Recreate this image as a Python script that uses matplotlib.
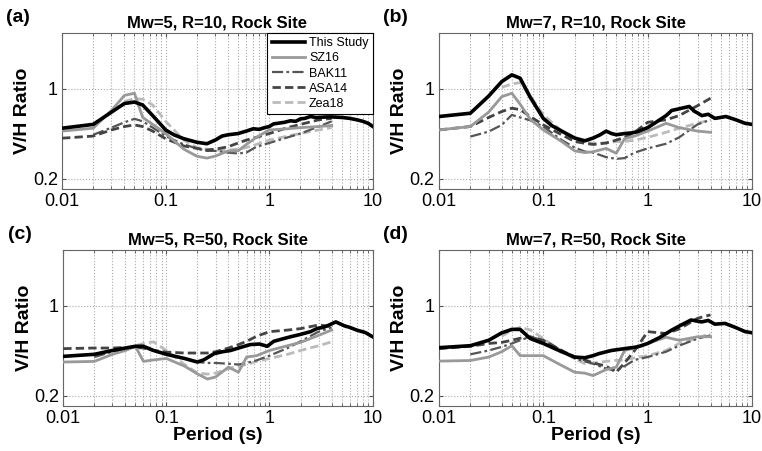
import numpy as np
import matplotlib
matplotlib.use('Agg')
import matplotlib.pyplot as plt
from matplotlib.ticker import FixedLocator, FixedFormatter, LogLocator, NullFormatter

plt.rcParams['font.family'] = ['Liberation Sans', 'DejaVu Sans']

# common periods for the published models (s)
periods = [0.01, 0.02, 0.03, 0.04, 0.05, 0.06, 0.075, 0.1, 0.15, 0.2, 0.25,
           0.3, 0.4, 0.5, 0.6, 0.75, 1, 1.5, 2, 3, 4]

titles = ['Mw=5, R=10, Rock Site', 'Mw=7, R=10, Rock Site',
          'Mw=5, R=50, Rock Site', 'Mw=7, R=50, Rock Site']
panel_tags = ['(a)', '(b)', '(c)', '(d)']
labels = ['This Study', 'SZ16', 'BAK11', 'ASA14', 'Zea18']

# ---- panel (a) ----
a_study_T = [0.01, 0.02, 0.03, 0.04, 0.05, 0.06, 0.075, 0.1, 0.12, 0.15, 0.2, 0.25,
             0.3, 0.35, 0.4, 0.5, 0.6, 0.7, 0.8, 0.9, 1.0, 1.1, 1.2, 1.4, 1.6, 1.8,
             2.0, 2.2, 2.5, 2.8, 3.0, 3.5, 4, 5, 6, 7, 8, 9, 10]
a_study_V = [0.495, 0.53, 0.66, 0.77, 0.79, 0.75, 0.62, 0.48, 0.44, 0.41, 0.385, 0.375,
             0.40, 0.43, 0.44, 0.45, 0.47, 0.49, 0.485, 0.50, 0.51, 0.535, 0.54, 0.55, 0.565, 0.56,
             0.585, 0.59, 0.61, 0.60, 0.60, 0.605, 0.606, 0.60, 0.59, 0.575, 0.56, 0.54, 0.51]
a_sz16 = [0.47, 0.495, 0.68, 0.89, 0.925, 0.60, 0.53, 0.45, 0.34, 0.30, 0.29, 0.30,
          0.33, 0.33, 0.37, 0.42, 0.48, 0.49, 0.50, 0.51, 0.52]
a_bak11 = [0.44, 0.50, 0.55, 0.585, 0.56, 0.50, 0.43, 0.37, 0.345, 0.33, 0.33, 0.32,
           0.315, 0.32, 0.355, 0.38, 0.42, 0.45, 0.51, 0.56]
a_asa14 = [0.414, 0.43, 0.48, 0.51, 0.525, 0.51, 0.47, 0.41, 0.36, 0.345, 0.335, 0.34,
           0.355, 0.38, 0.40, 0.42, 0.45, 0.50, 0.53, 0.575, 0.59]
a_zea18 = [0.80, 0.84, 0.83, 0.75, 0.56, 0.40, 0.35, 0.34, 0.335, 0.335, 0.34, 0.35,
           0.37, 0.40, 0.43, 0.45, 0.48, 0.50]

# ---- panel (b) ----
b_study_T = [0.01, 0.02, 0.03, 0.04, 0.05, 0.06, 0.075, 0.1, 0.12, 0.15, 0.2, 0.25,
             0.3, 0.35, 0.4, 0.45, 0.5, 0.6, 0.7, 0.8, 1.0, 1.2, 1.5, 1.7, 2.0, 2.5,
             2.8, 3.0, 3.3, 3.8, 4.4, 5.0, 5.6, 7.0, 8.6, 10]
b_study_V = [0.61, 0.647, 0.88, 1.14, 1.285, 1.21, 0.86, 0.59, 0.52, 0.47, 0.415, 0.395,
             0.415, 0.44, 0.47, 0.45, 0.44, 0.45, 0.455, 0.465, 0.50, 0.55, 0.62, 0.68, 0.70, 0.73,
             0.67, 0.65, 0.62, 0.635, 0.59, 0.60, 0.61, 0.575, 0.54, 0.53]
b_sz16 = [0.48, 0.51, 0.66, 0.87, 0.925, 0.76, 0.58, 0.48, 0.39, 0.33, 0.32, 0.325,
          0.345, 0.316, 0.41, 0.43, 0.47, 0.54, 0.50, 0.47, 0.46]
b_bak11 = [0.426, 0.466, 0.525, 0.628, 0.60, 0.57, 0.51, 0.40, 0.35, 0.326, 0.32, 0.295,
           0.286, 0.29, 0.32, 0.345, 0.375, 0.42, 0.53, 0.575]
b_asa14 = [0.48, 0.51, 0.60, 0.667, 0.708, 0.69, 0.61, 0.525, 0.44, 0.39, 0.378, 0.37,
           0.38, 0.40, 0.42, 0.46, 0.55, 0.575, 0.62, 0.74, 0.846]
b_zea18 = [1.03, 1.09, 1.12, 0.88, 0.63, 0.47, 0.40, 0.385, 0.378, 0.38, 0.39, 0.39,
           0.40, 0.42, 0.46, 0.495, 0.54, 0.575]

# ---- panel (c) ----
c_study_T = [0.01, 0.02, 0.03, 0.04, 0.05, 0.06, 0.075, 0.1, 0.15, 0.2, 0.23, 0.29,
             0.35, 0.42, 0.5, 0.65, 0.8, 0.95, 1.1, 1.3, 1.6, 2.0, 2.5, 2.9, 3.3,
             3.65, 4.4, 5.3, 6.0, 7.0, 8.5, 10]
c_study_V = [0.405, 0.42, 0.45, 0.47, 0.485, 0.485, 0.45, 0.42, 0.39, 0.366, 0.38, 0.425,
             0.44, 0.45, 0.47, 0.50, 0.505, 0.485, 0.53, 0.55, 0.575, 0.60, 0.63, 0.667, 0.68,
             0.70, 0.75, 0.70, 0.68, 0.648, 0.62, 0.575]
c_sz16 = [0.366, 0.37, 0.42, 0.45, 0.485, 0.37, 0.38, 0.39, 0.34, 0.296, 0.27, 0.28,
          0.334, 0.305, 0.40, 0.41, 0.45, 0.49, 0.52, 0.59, 0.648]
c_bak11 = [0.40, 0.44, 0.46, 0.48, 0.47, 0.45, 0.42, 0.39, 0.366, 0.36, 0.36, 0.355,
           0.35, 0.36, 0.377, 0.41, 0.47, 0.53, 0.63, 0.68]
c_asa14 = [0.465, 0.47, 0.47, 0.475, 0.475, 0.47, 0.45, 0.437, 0.43, 0.43, 0.43, 0.44,
           0.47, 0.50, 0.53, 0.58, 0.63, 0.648, 0.665, 0.71, 0.69]
c_zea18 = [0.45, 0.49, 0.51, 0.525, 0.45, 0.35, 0.30, 0.295, 0.30, 0.325, 0.34, 0.35,
           0.37, 0.39, 0.42, 0.45, 0.49, 0.525]

# ---- panel (d) ----
d_study_T = [0.01, 0.02, 0.03, 0.04, 0.05, 0.06, 0.075, 0.1, 0.15, 0.2, 0.25, 0.3,
             0.34, 0.45, 0.6, 0.8, 1.0, 1.3, 1.7, 2.1, 2.6, 3.0, 3.3, 3.8, 4.4, 5.5,
             6.9, 8.6, 10]
d_study_V = [0.473, 0.49, 0.54, 0.617, 0.656, 0.656, 0.557, 0.51, 0.44, 0.40, 0.395, 0.41,
             0.425, 0.45, 0.465, 0.48, 0.51, 0.567, 0.648, 0.71, 0.776, 0.76, 0.75, 0.77, 0.72, 0.73,
             0.68, 0.63, 0.617]
d_sz16 = [0.372, 0.376, 0.40, 0.44, 0.49, 0.41, 0.41, 0.41, 0.344, 0.305, 0.30, 0.287,
          0.32, 0.334, 0.45, 0.47, 0.51, 0.57, 0.54, 0.575, 0.575]
d_bak11 = [0.42, 0.45, 0.48, 0.51, 0.54, 0.575, 0.54, 0.45, 0.39, 0.37, 0.355, 0.325,
           0.315, 0.34, 0.38, 0.40, 0.44, 0.49, 0.556, 0.59]
d_asa14 = [0.465, 0.485, 0.51, 0.52, 0.54, 0.56, 0.575, 0.54, 0.45, 0.40, 0.38, 0.36,
           0.34, 0.305, 0.36, 0.45, 0.63, 0.61, 0.66, 0.80, 0.85]
d_zea18 = [0.58, 0.648, 0.68, 0.65, 0.557, 0.44, 0.39, 0.355, 0.36, 0.37, 0.377, 0.38,
           0.395, 0.41, 0.45, 0.51, 0.56, 0.61]

panels = [
    (a_study_T, a_study_V, a_sz16, a_bak11, a_asa14, a_zea18),
    (b_study_T, b_study_V, b_sz16, b_bak11, b_asa14, b_zea18),
    (c_study_T, c_study_V, c_sz16, c_bak11, c_asa14, c_zea18),
    (d_study_T, d_study_V, d_sz16, d_bak11, d_asa14, d_zea18),
]

styles = [
    dict(color='black', lw=2.6, ls='-'),
    dict(color='#999999', lw=2.0, ls='-'),
    dict(color='#555555', lw=1.6, ls=(0, (5, 1.5, 1.2, 1.5))),
    dict(color='#444444', lw=2.0, ls=(0, (3, 1.5))),
    dict(color='#bbbbbb', lw=2.0, ls=(0, (3, 1.5))),
]


def tail(vals):
    # models start at different periods but all end at 4 s
    return periods[len(periods) - len(vals):]


fig = plt.figure(figsize=(7.62, 4.51), dpi=100)
positions = [
    [0.0814, 0.581, 0.408, 0.346],
    [0.5760, 0.581, 0.411, 0.346],
    [0.0830, 0.100, 0.406, 0.346],
    [0.5760, 0.100, 0.411, 0.346],
]

for i, (sT, sV, sz, bak, asa, zea) in enumerate(panels):
    ax = fig.add_axes(positions[i])
    ax.set_xscale('log')
    ax.set_yscale('log')
    ax.plot(sT, sV, label=labels[0], **styles[0], zorder=6)
    ax.plot(tail(sz), sz, label=labels[1], **styles[1], zorder=5)
    ax.plot(tail(bak), bak, label=labels[2], **styles[2], zorder=4)
    ax.plot(tail(asa), asa, label=labels[3], **styles[3], zorder=4)
    ax.plot(tail(zea), zea, label=labels[4], **styles[4], zorder=3)

    ax.set_xlim(0.01, 10)
    ax.set_ylim(0.167, 2.72)
    ax.xaxis.set_major_locator(FixedLocator([0.01, 0.1, 1, 10]))
    ax.xaxis.set_major_formatter(FixedFormatter(['0.01', '0.1', '1', '10']))
    ax.xaxis.set_minor_locator(LogLocator(base=10, subs=np.arange(2, 10)))
    ax.xaxis.set_minor_formatter(NullFormatter())
    ax.yaxis.set_major_locator(FixedLocator([0.2, 1]))
    ax.yaxis.set_major_formatter(FixedFormatter(['0.2', '1']))
    ax.yaxis.set_minor_locator(FixedLocator([]))
    ax.grid(True, which='major', color='#aaaaaa', ls=':', lw=0.8)
    ax.grid(True, which='minor', axis='x', color='#aaaaaa', ls=':', lw=0.8)
    ax.tick_params(which='both', direction='in', labelsize=13, length=3,
                   top=True, right=True, color='#555555', pad=3)
    ax.tick_params(which='minor', length=2)
    for sp in ax.spines.values():
        sp.set_color('#666666')
        sp.set_linewidth(0.8)

    ax.set_title(titles[i], fontsize=12, fontweight='bold', pad=4)
    ax.set_ylabel('V/H Ratio', fontsize=14, fontweight='bold', labelpad=1)
    if i >= 2:
        ax.set_xlabel('Period (s)', fontsize=14, fontweight='bold', labelpad=0)
    ax.text(-0.18, 1.1, panel_tags[i], transform=ax.transAxes, fontsize=14,
            fontweight='bold', va='center', ha='left')

    if i == 0:
        leg = ax.legend(loc='upper right', fontsize=9, borderaxespad=0,
                        fancybox=False, framealpha=1, handlelength=2.7,
                        labelspacing=0.25, borderpad=0.35, handletextpad=0.3)
        leg.get_frame().set_edgecolor('black')
        leg.get_frame().set_linewidth(0.8)

fig.savefig('out.png', dpi=100)
